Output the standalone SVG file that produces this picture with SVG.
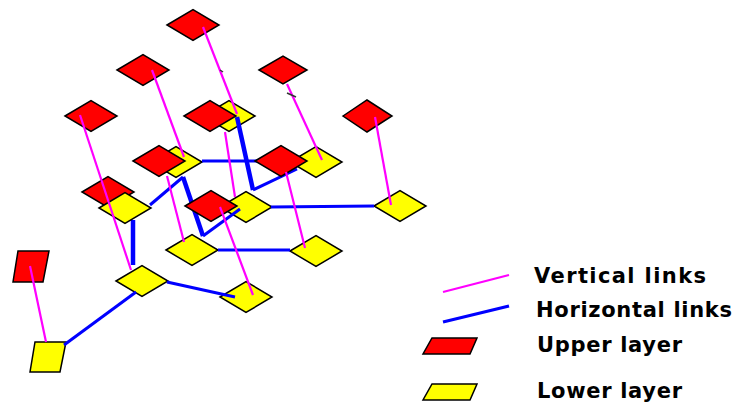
<svg xmlns="http://www.w3.org/2000/svg" xmlns:xlink="http://www.w3.org/1999/xlink" width="739" height="403" viewBox="0 0 739 403">
  <style>
    .upper { fill: #ff0000; stroke: #000; stroke-width: 1.5; stroke-linejoin: miter; }
    .lower { fill: #ffff00; stroke: #000; stroke-width: 1.5; stroke-linejoin: miter; }
    .vlink { stroke: #ff00ff; stroke-width: 2.2; fill: none; stroke-linecap: butt; }
    .hlink { stroke: #0000ff; stroke-width: 3; fill: none; stroke-linejoin: miter; }
    .thick { stroke-width: 4.5; }
    .tick { stroke: #333; stroke-width: 1.5; }
    .label { font-family: "DejaVu Sans", "Liberation Sans", sans-serif; font-weight: bold; font-size: 21px; fill: #000; }
  </style>
  <defs>
    <!-- one node tile: a flat diamond centred on the origin -->
    <polygon id="dia" points="-26,0 0,-15.5 26,0 0,15.5"/>
  </defs>

  <rect width="739" height="403" fill="#fff"/>

  <!-- lower layer nodes -->
  <g id="lower-nodes">
    <g id="Y1"><use xlink:href="#dia" href="#dia" class="lower" x="229" y="116"/></g>
    <g id="Y2"><use xlink:href="#dia" href="#dia" class="lower" x="176" y="162"/></g>
    <g id="Y3"><use xlink:href="#dia" href="#dia" class="lower" x="316" y="162"/></g>
    <g id="Y5"><use xlink:href="#dia" href="#dia" class="lower" x="246" y="207"/></g>
    <g id="Y6"><use xlink:href="#dia" href="#dia" class="lower" x="400" y="206"/></g>
    <g id="Y7"><use xlink:href="#dia" href="#dia" class="lower" x="192" y="250"/></g>
    <g id="Y8"><use xlink:href="#dia" href="#dia" class="lower" x="316" y="251"/></g>
    <g id="Y9"><use xlink:href="#dia" href="#dia" class="lower" x="142" y="281"/></g>
    <g id="Y10"><use xlink:href="#dia" href="#dia" class="lower" x="246" y="297"/></g>
    <g id="Y11"><polygon class="lower" stroke-width="2" points="35,342 66,342 60,372 30,372"/></g>
  </g>

  <!-- horizontal links between lower layer nodes -->
  <g id="horizontal-links">
    <polyline class="hlink thick" points="237,117 253,190"/>
    <polyline class="hlink" points="253,190 297,169"/>
    <line class="hlink" x1="202" y1="161" x2="268" y2="161"/>
    <polyline class="hlink" stroke-width="2.5" points="150,205 183,177"/>
    <polyline class="hlink thick" points="183,177 203,236"/>
    <polyline class="hlink" points="203,236 240,209"/>
    <line class="hlink" x1="271" y1="207" x2="374" y2="206"/>
    <line class="hlink" x1="218" y1="250" x2="290" y2="250"/>
    <line class="hlink thick" x1="133" y1="220" x2="133" y2="265"/>
    <line class="hlink" stroke-width="3.5" x1="167" y1="282" x2="235" y2="297"/>
    <line class="hlink" stroke-width="5" x1="136" y1="292" x2="64" y2="345"/>
  </g>

  <!-- upper layer nodes -->
  <g id="upper-nodes">
    <g id="R1"><use xlink:href="#dia" href="#dia" class="upper" x="193" y="25"/></g>
    <g id="R2"><use xlink:href="#dia" href="#dia" class="upper" x="143" y="70"/></g>
    <g id="R3"><polygon class="upper" points="259,70 283,56 307,70 283,84"/></g>
    <g id="R4"><use xlink:href="#dia" href="#dia" class="upper" x="91" y="116"/></g>
    <g id="R5"><use xlink:href="#dia" href="#dia" class="upper" x="210" y="116"/></g>
    <g id="R6"><polygon class="upper" points="343,116 367,100 392,116 367,132"/></g>
    <g id="R7"><use xlink:href="#dia" href="#dia" class="upper" x="159" y="161"/></g>
    <g id="R8"><use xlink:href="#dia" href="#dia" class="upper" x="281" y="161"/></g>
    <g id="R9"><use xlink:href="#dia" href="#dia" class="upper" x="108" y="192"/></g>
    <g id="R10"><use xlink:href="#dia" href="#dia" class="upper" x="211" y="206"/></g>
    <g id="R11"><polygon class="upper" stroke-width="2" points="18,251 49,251 43,282 13,282"/></g>
  </g>

  <!-- lower node sitting in front of its upper partner -->
  <g id="Y4"><use xlink:href="#dia" href="#dia" class="lower" x="125" y="208"/></g>

  <!-- vertical links from each upper node down to the lower layer -->
  <g id="vertical-links">
    <line class="vlink" x1="203" y1="27" x2="237" y2="114"/>
    <line class="vlink" x1="152" y1="70" x2="184" y2="157"/>
    <line class="vlink" x1="287" y1="84" x2="322" y2="160"/>
    <line class="vlink" x1="80" y1="115" x2="131" y2="270"/>
    <line class="vlink" x1="225" y1="132" x2="235" y2="197"/>
    <line class="vlink" x1="375" y1="117" x2="391" y2="205"/>
    <line class="vlink" x1="167" y1="176" x2="184" y2="242"/>
    <line class="vlink" x1="286" y1="172" x2="305" y2="248"/>
    <line class="vlink" x1="220" y1="207" x2="253" y2="295"/>
    <line class="vlink" stroke-width="3" x1="30" y1="266" x2="46" y2="342"/>
    <!-- small dark marks beside two of the links -->
    <line class="tick" x1="220" y1="70" x2="223" y2="72"/>
    <line class="tick" x1="287" y1="93" x2="296" y2="97"/>
  </g>

  <!-- legend -->
  <g id="legend">
    <line class="vlink" stroke-width="1.5" x1="443" y1="292" x2="509" y2="275"/>
    <line class="hlink" stroke-width="1.5" x1="443" y1="322" x2="509" y2="306"/>
    <polygon class="upper" points="432,338 477,338 470,354 423,354"/>
    <polygon class="lower" points="432,384 477,384 470,400 423,400"/>
    <text class="label" x="534" y="283" textLength="172" lengthAdjust="spacing">Vertical links</text>
    <text class="label" x="536" y="317" textLength="196" lengthAdjust="spacing">Horizontal links</text>
    <text class="label" x="537" y="352" textLength="145" lengthAdjust="spacing">Upper layer</text>
    <text class="label" x="537" y="398" textLength="145" lengthAdjust="spacing">Lower layer</text>
  </g>
</svg>
